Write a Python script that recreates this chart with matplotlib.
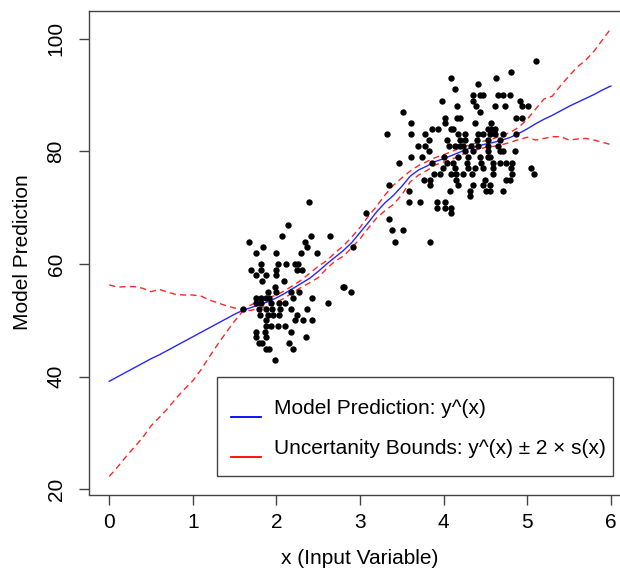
import matplotlib

matplotlib.use("Agg")
import matplotlib.pyplot as plt
from matplotlib.lines import Line2D
from matplotlib.patches import Rectangle

plt.rcParams["font.family"] = ["Liberation Sans", "DejaVu Sans"]

# observed points (input x, response y)
points_x = [
    2.39, 2.14, 2.07, 2.41, 2.64, 1.67, 2.34, 1.84, 2.37, 1.75, 1.99, 2.29, 2.49,
    1.82, 2.02, 2.11, 2.22, 2.26, 1.70, 1.82, 1.99, 2.24, 2.31, 1.75, 1.87, 2.00,
    1.83, 2.09, 1.98, 2.80, 2.00, 1.90, 2.17, 2.27, 1.75, 1.81, 1.87, 1.91, 2.20,
    2.42, 1.60, 1.75, 1.81, 1.94, 2.03, 2.10, 2.62, 1.79, 1.87, 1.95, 2.04, 2.17,
    2.36, 1.80, 1.90, 1.96, 2.03, 2.25, 1.87, 2.22, 2.32, 2.42, 1.87, 1.94, 2.02,
    2.10, 1.75, 1.86, 2.17, 1.75, 1.87, 2.35, 1.79, 1.83, 2.15, 1.87, 1.91, 2.20,
    1.98, 3.07, 2.91, 2.81, 2.89,
    4.09, 4.14, 3.98, 3.51, 4.16, 4.01, 4.16, 4.19, 3.61, 4.01, 3.86, 3.93, 4.09,
    4.11, 3.32, 3.61, 3.78, 4.17, 3.83, 4.04, 3.69, 3.78, 4.06, 4.13, 4.19, 3.83,
    5.11, 4.81, 4.63, 4.41, 4.35, 4.43, 4.47, 4.65, 4.71, 4.79, 4.35, 4.91, 4.39,
    4.61, 4.73, 4.94, 5.01, 4.43, 4.86, 4.94, 4.37, 4.57, 4.53, 4.57, 4.61, 4.25,
    4.41, 4.47, 4.55, 4.61, 4.71, 4.86, 4.26, 4.40, 4.53, 4.67, 4.23, 4.33, 4.41,
    4.53, 4.65, 4.25, 4.35, 4.53, 4.19,
    3.61, 3.74, 3.46, 3.86, 4.00, 4.04, 4.11, 4.17, 3.89, 3.96, 4.09, 3.99, 4.14,
    3.76, 3.84, 4.15, 3.34, 3.84, 4.17, 3.58, 4.08, 3.58, 3.72, 3.92, 4.01, 3.92,
    4.01, 4.09, 4.09, 3.34, 3.38, 3.51, 3.42, 3.84,
    4.67, 4.71, 4.85, 4.29, 4.43, 4.53, 4.55, 4.28, 4.45, 4.59, 4.67, 4.75, 4.82,
    4.29, 4.37, 4.47, 4.59, 4.81, 5.05, 4.23, 4.34, 4.59, 4.82, 5.08, 4.15, 4.50,
    4.75, 4.79, 4.35, 4.47, 4.55, 4.31, 4.51, 4.55, 4.71, 4.31,
]
points_y = [
    71, 67, 65, 65, 65, 64, 64, 63, 63, 62, 62, 62, 62,
    60, 60, 60, 60, 60, 59, 59, 59, 59, 59, 58, 58, 58,
    57, 57, 56, 56, 55, 55, 55, 55, 54, 54, 54, 54, 54,
    54, 52, 53, 53, 53, 53, 53, 53, 52, 52, 52, 52, 52,
    52, 51, 51, 51, 51, 51, 50, 50, 50, 50, 49, 49, 49,
    49, 48, 48, 48, 47, 47, 47, 46, 46, 46, 45, 45, 45,
    43, 69, 63, 56, 55,
    93, 91, 89, 87, 88, 86, 86, 86, 85, 85, 84, 84, 84,
    84, 83, 83, 83, 83, 82, 82, 81, 81, 81, 81, 81, 80,
    96, 94, 93, 92, 90, 90, 90, 90, 90, 90, 89, 89, 88,
    88, 88, 88, 88, 87, 86, 86, 85, 85, 84, 84, 84, 83,
    83, 83, 83, 83, 83, 83, 82, 82, 82, 82, 81, 81, 81,
    81, 81, 80, 80, 80, 82,
    79, 79, 78, 78, 79, 78, 78, 79, 76, 76, 76, 77, 77,
    75, 75, 75, 74, 74, 74, 73, 73, 71, 71, 71, 71, 70,
    70, 70, 69, 68, 66, 66, 64, 64,
    80, 80, 80, 79, 79, 79, 79, 78, 78, 78, 78, 78, 78,
    77, 77, 77, 77, 77, 77, 76, 76, 76, 76, 76, 76, 75,
    75, 75, 74, 74, 74, 73, 73, 73, 73, 72,
]

# model curve and +/- 2 s(x) bounds on a grid
curve_x = [
    0.0, 0.1, 0.2, 0.3, 0.4, 0.5, 0.6, 0.7, 0.8, 0.9, 1.0, 1.1, 1.2, 1.3, 1.4,
    1.5, 1.6, 1.7, 1.8, 1.9, 2.0, 2.1, 2.2, 2.3, 2.4, 2.5, 2.6, 2.7, 2.8, 2.9,
    3.0, 3.1, 3.2, 3.3, 3.4, 3.5, 3.6, 3.7, 3.8, 3.9, 4.0, 4.1, 4.2, 4.3, 4.4,
    4.5, 4.6, 4.7, 4.8, 4.9, 5.0, 5.1, 5.2, 5.3, 5.4, 5.5, 5.6, 5.7, 5.8, 5.9,
    6.0,
]
pred_y = [
    39.2, 40.0, 40.8, 41.6, 42.4, 43.2, 43.9, 44.7, 45.5, 46.3, 47.1, 47.9, 48.7,
    49.5, 50.3, 51.1, 51.8, 52.3, 52.8, 53.3, 54.0, 54.8, 55.7, 56.6, 57.5, 58.7,
    60.0, 61.2, 62.4, 63.8, 65.6, 67.4, 69.3, 70.9, 72.2, 73.8, 75.6, 76.7, 77.4,
    78.2, 78.7, 79.3, 79.9, 80.5, 80.9, 81.3, 81.6, 82.0, 82.5, 83.2, 84.0, 84.9,
    85.7, 86.4, 87.2, 88.0, 88.7, 89.4, 90.1, 90.9, 91.6,
]
upper_y = [
    56.3, 55.9, 56.0, 56.0, 55.7, 55.1, 55.5, 55.0, 54.6, 54.5, 54.5, 54.3, 53.6,
    53.1, 52.6, 52.2, 51.9, 52.8, 53.3, 54.0, 54.5, 55.3, 56.2, 57.2, 58.4, 59.6,
    60.6, 62.0, 63.2, 64.8, 66.5, 68.5, 70.3, 72.3, 74.0, 75.3, 76.5, 77.5, 78.2,
    78.9, 79.4, 80.0, 80.6, 81.1, 81.5, 81.9, 82.3, 82.8, 83.4, 84.3, 85.7, 87.5,
    89.3, 89.8, 91.7, 93.4, 95.0, 96.2, 97.8, 99.8, 101.8,
]
lower_y = [
    22.3, 24.0, 25.8, 27.5, 29.2, 31.3, 32.8, 34.4, 36.2, 37.8, 39.3, 41.3, 43.6,
    45.8, 47.9, 49.9, 51.7, 51.8, 52.2, 52.6, 53.2, 54.0, 55.0, 55.9, 56.7, 57.6,
    59.2, 60.5, 61.4, 62.9, 64.5, 66.4, 68.2, 69.5, 70.6, 72.3, 74.6, 75.8, 76.6,
    77.6, 78.1, 78.6, 79.3, 80.0, 80.3, 80.7, 80.9, 81.2, 81.6, 82.1, 82.5, 82.0,
    82.3, 82.6, 82.6, 82.0, 82.2, 82.3, 82.0, 81.6, 81.2,
]

legend_labels = [
    "Model Prediction: y^(x)",
    "Uncertanity Bounds: y^(x) \u00b1 2 \u00d7 s(x)",
]

W, H = 620, 571
FS = 15
EDGE = "#444444"


def fig_xy(px, py):
    """pixel position (top-left origin) -> figure fraction"""
    return px / W, 1 - py / H


fig = plt.figure(figsize=(W / 100, H / 100), dpi=100)
left, top = fig_xy(89.2, 10.5)
_, bottom = fig_xy(0, 494.5)
ax = fig.add_axes([left, bottom, 1 - left, top - bottom])

ax.plot(curve_x, upper_y, color="red", lw=1, dashes=(4.5, 3), alpha=0.85)
ax.plot(curve_x, lower_y, color="red", lw=1, dashes=(4.5, 3), alpha=0.85)
ax.plot(curve_x, pred_y, color="blue", lw=1, alpha=0.85)
ax.scatter(points_x, points_y, s=21, color="black", linewidths=0, zorder=3)

ax.set_xlim(-0.24, 6.109)
ax.set_ylim(19.1, 105.0)
ax.set_xticks(range(0, 7))
ax.set_yticks(range(20, 101, 20))

for side in ["left", "bottom", "top"]:
    ax.spines[side].set_color(EDGE)
    ax.spines[side].set_linewidth(1)
ax.spines["right"].set_visible(False)

ax.tick_params(length=7, width=1, color=EDGE, labelsize=FS)
ax.tick_params(axis="x", pad=6)
ax.tick_params(axis="y", pad=10)
for lab in ax.get_yticklabels():
    lab.set_rotation(90)
    lab.set_va("center")

ax.set_xlabel("x (Input Variable)", fontsize=FS, va="center")
ax.xaxis.set_label_coords((359.5 - 89.2) / 530.8, (494.5 - 558) / 484)
ax.set_ylabel("Model Prediction", fontsize=FS, va="center")
ax.yaxis.set_label_coords((22 - 89.2) / 530.8, 0.5)

# legend box, drawn in figure pixels
x0, y0 = fig_xy(217, 476)
x1, y1 = fig_xy(613, 377)
fig.add_artist(Rectangle((x0, y0), x1 - x0, y1 - y0, transform=fig.transFigure,
                         facecolor="white", edgecolor=EDGE, lw=1, zorder=5))
for i, (label, color) in enumerate(zip(legend_labels, ["blue", "red"])):
    lx0, ly = fig_xy(231, 417 + 40 * i)
    lx1, _ = fig_xy(261, 0)
    fig.add_artist(Line2D([lx0, lx1], [ly, ly], color=color, lw=1.3,
                          transform=fig.transFigure, zorder=6))
    tx, ty = fig_xy(274, 413.5 + 40 * i)
    fig.text(tx, ty, label, fontsize=FS, va="baseline", ha="left", zorder=6)

fig.savefig("out.png", dpi=100)
plt.close(fig)
